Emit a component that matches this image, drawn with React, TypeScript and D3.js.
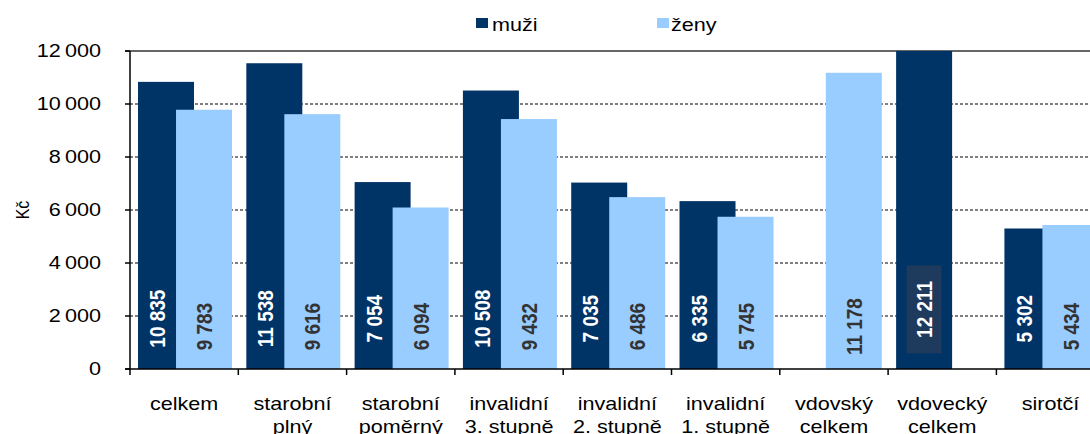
import React from 'react';
import * as d3 from 'd3';

// categories (label lines) and values in Kč
const categories: string[][] = [
  ['celkem'],
  ['starobní', 'plný'],
  ['starobní', 'poměrný'],
  ['invalidní', '3. stupně'],
  ['invalidní', '2. stupně'],
  ['invalidní', '1. stupně'],
  ['vdovský', 'celkem'],
  ['vdovecký', 'celkem'],
  ['sirotčí'],
];
const muzi: (number | null)[] = [10835, 11538, 7054, 10508, 7035, 6335, null, 12211, 5302];
const zeny: (number | null)[] = [9783, 9616, 6094, 9432, 6486, 5745, 11178, null, 5434];
const yTicks = [0, 2000, 4000, 6000, 8000, 10000, 12000];
const seriesNames = ['muži', 'ženy'];

const W = 1090;
const H = 434;
const left = 130;
const bandW = 108.3;
const top = 51;
const bottom = 369;
const SX = 1.2; // horizontal stretch of the original picture's text

const C_M = '#003366';
const C_Z = '#99ccff';
const FONT = '"Liberation Sans", Arial, sans-serif';

const fmtLabel = (v: number) => d3.format(',')(v).replace(/,/g, ' ');
const fmtTick = (v: number) => d3.format(',')(v).replace(/,/g, '\u2009');

function Txt(props: {
  x: number; y: number; anchor?: string; size: number; weight?: string;
  fill?: string; rot?: boolean; baseline?: string; children: React.ReactNode;
}) {
  const { x, y, anchor = 'middle', size, weight = 'normal', fill = '#000', rot, baseline } = props;
  return (
    <text
      transform={`translate(${x},${y}) scale(${SX},1)${rot ? ' rotate(-90)' : ''}`}
      textAnchor={anchor}
      dominantBaseline={baseline}
      fontSize={size}
      fontWeight={weight}
      fill={fill}
      fontFamily={FONT}
    >
      {props.children}
    </text>
  );
}

export default function App() {
  const x = d3
    .scaleBand<number>()
    .domain(d3.range(categories.length))
    .range([left, left + bandW * categories.length])
    .paddingInner(0)
    .paddingOuter(0);
  const bw = x.bandwidth();
  const barW = bw * 0.517;
  const off = d3.scalePoint<string>().domain(seriesNames).range([bw * 0.074, bw * 0.425]);

  const y = d3.scaleLinear().domain([0, 12000]).range([bottom, top]).clamp(true);

  const labelYM = y(1900);
  const labelYZ = y(1600);

  return (
    <svg
      width={W}
      height={H}
      style={{ position: 'absolute', left: 0, top: 0, background: '#fff' }}
    >
      {/* gridlines */}
      {yTicks.filter((t) => t > 0 && t < 12000).map((t) => (
        <line key={t} x1={left} x2={W} y1={y(t)} y2={y(t)} stroke="#000" strokeWidth={1} strokeDasharray="3,2" />
      ))}
      <line x1={left - 5} x2={W} y1={y(12000)} y2={y(12000)} stroke="#333" strokeWidth={1.6} />

      {/* muži bars */}
      {muzi.map((v, i) =>
        v == null ? null : (
          <rect key={'m' + i} x={(x(i) ?? 0) + (off('muži') ?? 0)} y={y(v)} width={barW} height={bottom - y(v)} fill={C_M} />
        )
      )}
      {/* ženy bars */}
      {zeny.map((v, i) =>
        v == null ? null : (
          <rect key={'z' + i} x={(x(i) ?? 0) + (off('ženy') ?? 0)} y={y(v)} width={barW} height={bottom - y(v)} fill={C_Z} />
        )
      )}

      {/* value labels */}
      {muzi.map((v, i) => {
        if (v == null) return null;
        const x0 = (x(i) ?? 0) + (off('muži') ?? 0);
        const x1 = zeny[i] == null ? x0 + barW : (x(i) ?? 0) + (off('ženy') ?? 0);
        const cx = (x0 + x1) / 2;
        const boxed = v > 12000;
        const cy = boxed ? y(2250) : labelYM;
        return (
          <g key={'ml' + i}>
            {boxed && <rect x={cx - 17.5} y={cy - 44} width={35} height={88} fill="#1e3a5c" />}
            <Txt x={cx} y={cy} size={19} weight="bold" fill="#fff" rot baseline="central">
              {fmtLabel(v)}
            </Txt>
          </g>
        );
      })}
      {zeny.map((v, i) => {
        if (v == null) return null;
        const cx = (x(i) ?? 0) + (off('ženy') ?? 0) + barW / 2;
        return (
          <Txt key={'zl' + i} x={cx} y={labelYZ} size={19} weight="bold" fill="#333" rot baseline="central">
            {fmtLabel(v)}
          </Txt>
        );
      })}

      {/* y axis */}
      <line x1={left} x2={left} y1={top} y2={bottom} stroke="#000" strokeWidth={1.5} />
      {yTicks.map((t) => (
        <g key={'yt' + t}>
          <line x1={left - 5} x2={left} y1={y(t)} y2={y(t)} stroke="#000" strokeWidth={1.5} />
          <Txt x={101} y={y(t)} anchor="end" size={18} baseline="central">
            {fmtTick(t)}
          </Txt>
        </g>
      ))}
      <Txt x={22} y={210} size={16} rot baseline="central">Kč</Txt>

      {/* x axis */}
      <line x1={left - 5} x2={W} y1={bottom} y2={bottom} stroke="#000" strokeWidth={1.5} />
      {d3.range(categories.length + 1).map((i) => {
        const xx = left + i * bw;
        return <line key={'xt' + i} x1={xx} x2={xx} y1={bottom} y2={bottom + 6} stroke="#000" strokeWidth={1.5} />;
      })}
      {categories.map((lines, i) => (
        <g key={'cl' + i}>
          {lines.map((ln, j) => (
            <Txt key={j} x={(x(i) ?? 0) + bw / 2} y={410 + j * 23} size={18}>
              {ln}
            </Txt>
          ))}
        </g>
      ))}

      {/* legend */}
      <rect x={476} y={18} width={12} height={10} fill={C_M} />
      <Txt x={492} y={31} anchor="start" size={18}>muži</Txt>
      <rect x={657} y={18} width={12} height={10} fill={C_Z} />
      <Txt x={671} y={31} anchor="start" size={18}>ženy</Txt>
    </svg>
  );
}
